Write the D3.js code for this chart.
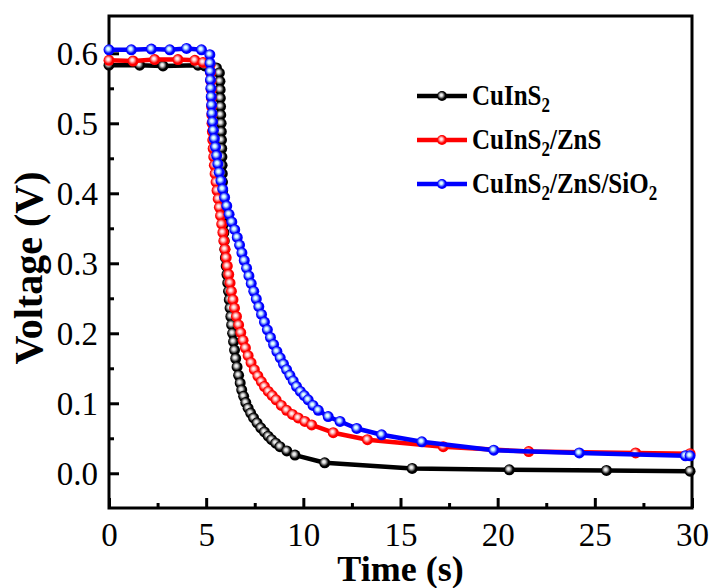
<!DOCTYPE html>
<html>
<head>
<meta charset="utf-8">
<script src="https://cdn.jsdelivr.net/npm/d3@7"></script>
<style>
  body { margin: 0; background: #fff; }
  svg { display: block; }
  .tick-label { font-family: "Liberation Serif", "Times New Roman", serif; font-size: 33px; fill: #000; }
  .axis-title { font-family: "Liberation Serif", "Times New Roman", serif; font-size: 36px; font-weight: bold; fill: #000; }
  .legend-text { font-family: "Liberation Serif", "Times New Roman", serif; font-size: 25px; font-weight: bold; fill: #000; }
</style>
</head>
<body>
<div id="chart"></div>
<script>
// Open-circuit voltage decay: [time (s), voltage (V)]
let cuins2 = [
  [0, 0.583], [1.58, 0.583], [2.78, 0.582], [4.58, 0.583], [4.93, 0.582], [5.28, 0.581], [5.53, 0.579], [5.68, 0.572],
  [5.71, 0.560], [5.72, 0.548], [5.73, 0.536], [5.74, 0.524], [5.75, 0.512], [5.77, 0.500], [5.78, 0.488], [5.79, 0.476],
  [5.80, 0.464], [5.81, 0.452], [5.82, 0.440], [5.83, 0.428], [5.84, 0.416], [5.85, 0.404], [5.86, 0.392], [5.87, 0.380],
  [5.88, 0.368], [5.89, 0.356], [5.91, 0.344], [5.93, 0.332], [5.96, 0.320], [5.99, 0.308], [6.03, 0.296], [6.07, 0.284],
  [6.11, 0.272], [6.15, 0.260], [6.19, 0.248], [6.23, 0.236], [6.27, 0.224], [6.31, 0.212], [6.36, 0.200], [6.41, 0.188],
  [6.46, 0.176], [6.52, 0.164], [6.59, 0.152], [6.67, 0.140], [6.75, 0.129], [6.83, 0.119], [6.93, 0.110], [7.04, 0.101],
  [7.16, 0.093], [7.29, 0.086], [7.44, 0.079], [7.62, 0.072], [7.81, 0.065], [8.00, 0.059], [8.19, 0.053], [8.37, 0.048],
  [8.58, 0.043], [8.80, 0.038], [9.15, 0.032], [9.57, 0.026], [11.1, 0.015], [15.6, 0.007], [20.6, 0.005], [25.6, 0.004],
  [29.9, 0.003]
];

let cuins2Zns = [
  [0, 0.590], [1.24, 0.589], [2.35, 0.591], [3.55, 0.591], [4.42, 0.590], [4.84, 0.587], [5.20, 0.583], [5.23, 0.572],
  [5.245, 0.560], [5.26, 0.548], [5.27, 0.536], [5.28, 0.524], [5.29, 0.512], [5.30, 0.500], [5.32, 0.488], [5.34, 0.476],
  [5.36, 0.464], [5.39, 0.452], [5.42, 0.440], [5.46, 0.428], [5.51, 0.416], [5.56, 0.404], [5.62, 0.392], [5.68, 0.380],
  [5.74, 0.368], [5.80, 0.356], [5.86, 0.344], [5.91, 0.332], [5.97, 0.320], [6.03, 0.308], [6.09, 0.296], [6.16, 0.284],
  [6.23, 0.272], [6.30, 0.260], [6.38, 0.248], [6.46, 0.236], [6.56, 0.224], [6.67, 0.212], [6.78, 0.201], [6.90, 0.190],
  [7.02, 0.179], [7.16, 0.168], [7.31, 0.158], [7.48, 0.148], [7.66, 0.139], [7.84, 0.131], [8.00, 0.124], [8.20, 0.117],
  [8.40, 0.111], [8.60, 0.105], [8.87, 0.097], [9.14, 0.090], [9.44, 0.084], [9.74, 0.079], [10.08, 0.074], [10.43, 0.069],
  [11.54, 0.058], [13.3, 0.048], [17.2, 0.038], [21.6, 0.031], [27.1, 0.029], [29.9, 0.028]
];

let cuins2ZnsSio2 = [
  [0, 0.605], [1.15, 0.605], [2.18, 0.606], [3.13, 0.605], [3.99, 0.607], [4.76, 0.605], [5.19, 0.598], [5.20, 0.586],
  [5.21, 0.574], [5.22, 0.562], [5.24, 0.550], [5.26, 0.538], [5.28, 0.526], [5.30, 0.514], [5.33, 0.502], [5.37, 0.490],
  [5.42, 0.478], [5.48, 0.466], [5.54, 0.454], [5.60, 0.442], [5.67, 0.430], [5.76, 0.418], [5.85, 0.406], [5.95, 0.394],
  [6.06, 0.382], [6.18, 0.370], [6.32, 0.359], [6.47, 0.348], [6.60, 0.337], [6.72, 0.326], [6.84, 0.315], [6.96, 0.304],
  [7.08, 0.293], [7.20, 0.282], [7.32, 0.271], [7.45, 0.260], [7.58, 0.249], [7.71, 0.238], [7.85, 0.227], [8.00, 0.216],
  [8.15, 0.205], [8.31, 0.194], [8.47, 0.184], [8.64, 0.174], [8.81, 0.165], [8.98, 0.156], [9.14, 0.148], [9.31, 0.140],
  [9.48, 0.132], [9.65, 0.124], [9.85, 0.117], [10.05, 0.111], [10.25, 0.105], [10.50, 0.097], [10.77, 0.090], [11.28, 0.081],
  [11.89, 0.074], [12.75, 0.064], [14.03, 0.055], [16.1, 0.045], [19.8, 0.033], [24.2, 0.029], [29.66, 0.025], [29.9, 0.025]
];

// Axis ticks
let xTicks = [0, 5, 10, 15, 20, 25, 30];
let xMinorTicks = [2.5, 7.5, 12.5, 17.5, 22.5, 27.5];
let yTicks = [0.0, 0.1, 0.2, 0.3, 0.4, 0.5, 0.6];
let yMinorTicks = [0.05, 0.15, 0.25, 0.35, 0.45, 0.55];

// Series: label parts [text, is subscript], colours
let series = [
  {id: "blk", data: cuins2, color: "#000000", light: "#d8d8d8", label: [["CuInS", false], ["2", true]]},
  {id: "red", data: cuins2Zns, color: "#ff0000", light: "#ffd0d0", label: [["CuInS", false], ["2", true], ["/ZnS", false]]},
  {id: "blu", data: cuins2ZnsSio2, color: "#0000ff", light: "#c8f4ff", label: [["CuInS", false], ["2", true], ["/ZnS/SiO", false], ["2", true]]}
];

// Set the dimensions and margins of the graph
let margin = {top: 16, right: 18, bottom: 80, left: 109},
    width = 710 - margin.left - margin.right,
    height = 588 - margin.top - margin.bottom;

let svg = d3.select("#chart").append("svg")
    .attr("width", 710)
    .attr("height", 588);

// Sphere-like gradients for the markers
let defs = svg.append("defs");
series.forEach(function(s) {
    let g = defs.append("radialGradient")
        .attr("id", "ball-" + s.id)
        .attr("cx", "45%").attr("cy", "45%").attr("r", "55%")
        .attr("fx", "42%").attr("fy", "40%");
    g.append("stop").attr("offset", "0%").attr("stop-color", "#ffffff");
    g.append("stop").attr("offset", "25%").attr("stop-color", s.light);
    g.append("stop").attr("offset", "70%").attr("stop-color", s.color);
    g.append("stop").attr("offset", "100%").attr("stop-color", s.color);
});

let plot = svg.append("g")
    .attr("transform", "translate(" + margin.left + "," + margin.top + ")");

let x = d3.scaleLinear().domain([0, 30]).range([0, width]);
let y = d3.scaleLinear().domain([-0.0496, 0.6533]).range([height, 0]);

// Frame
plot.append("rect")
    .attr("x", 0).attr("y", 0)
    .attr("width", width).attr("height", height)
    .attr("fill", "none")
    .attr("stroke", "#000")
    .attr("stroke-width", 3);

// Bottom axis, ticks pointing inward
let xAxis = plot.append("g")
    .attr("transform", "translate(0," + height + ")")
    .call(d3.axisBottom(x).tickValues(xTicks).tickSizeInner(-10).tickSizeOuter(0).tickFormat(d3.format("d")));
xAxis.append("g").call(d3.axisBottom(x).tickValues(xMinorTicks).tickSizeInner(-5).tickSizeOuter(0).tickFormat(""));

// Left axis
let yAxis = plot.append("g")
    .call(d3.axisLeft(y).tickValues(yTicks).tickSizeInner(-10).tickSizeOuter(0).tickFormat(d3.format(".1f")));
yAxis.append("g").call(d3.axisLeft(y).tickValues(yMinorTicks).tickSizeInner(-5).tickSizeOuter(0).tickFormat(""));

svg.selectAll(".domain").remove();
svg.selectAll(".tick line").attr("stroke", "#000").attr("stroke-width", 3);
xAxis.selectAll(".tick text")
    .attr("class", "tick-label")
    .attr("y", 0).attr("dy", 0)
    .attr("transform", "translate(0,38)");
yAxis.selectAll(".tick text")
    .attr("class", "tick-label")
    .attr("x", -11).attr("dy", "0.33em");

// Axis titles
svg.append("text")
    .attr("class", "axis-title")
    .attr("x", margin.left + width / 2)
    .attr("y", 581)
    .attr("text-anchor", "middle")
    .text("Time (s)");

svg.append("text")
    .attr("class", "axis-title")
    .attr("transform", "translate(42,268) rotate(-90)")
    .attr("text-anchor", "middle")
    .style("font-size", "40px")
    .text("Voltage (V)");

// Lines and markers
let line = d3.line().x(d => x(d[0])).y(d => y(d[1]));

series.forEach(function(s) {
    let g = plot.append("g").attr("class", "series-" + s.id);
    g.append("path")
        .datum(s.data)
        .attr("d", line)
        .attr("fill", "none")
        .attr("stroke", s.color)
        .attr("stroke-width", 4.5)
        .attr("stroke-linejoin", "round");
    g.selectAll("circle")
        .data(s.data)
        .enter().append("circle")
        .attr("cx", d => x(d[0]))
        .attr("cy", d => y(d[1]))
        .attr("r", 5.5)
        .attr("fill", "url(#ball-" + s.id + ")");
});

// Legend (text slightly stretched vertically like the original)
let legend = svg.append("g");
series.forEach(function(s, i) {
    let ly = 96 + i * 44;
    legend.append("line")
        .attr("x1", 417).attr("x2", 467)
        .attr("y1", ly).attr("y2", ly)
        .attr("stroke", s.color)
        .attr("stroke-width", 4.5);
    legend.append("circle")
        .attr("cx", 442).attr("cy", ly)
        .attr("r", 5)
        .attr("fill", "url(#ball-" + s.id + ")");
    let t = legend.append("text")
        .attr("class", "legend-text")
        .attr("transform", "translate(472," + (ly + 9) + ") scale(1,1.2)");
    let lowered = false;
    s.label.forEach(function(part) {
        let ts = t.append("tspan").text(part[0]);
        if (part[1]) {
            ts.attr("dy", 6).attr("font-size", "17px");
            lowered = true;
        } else if (lowered) {
            ts.attr("dy", -6);
            lowered = false;
        }
    });
});
</script>
</body>
</html>
